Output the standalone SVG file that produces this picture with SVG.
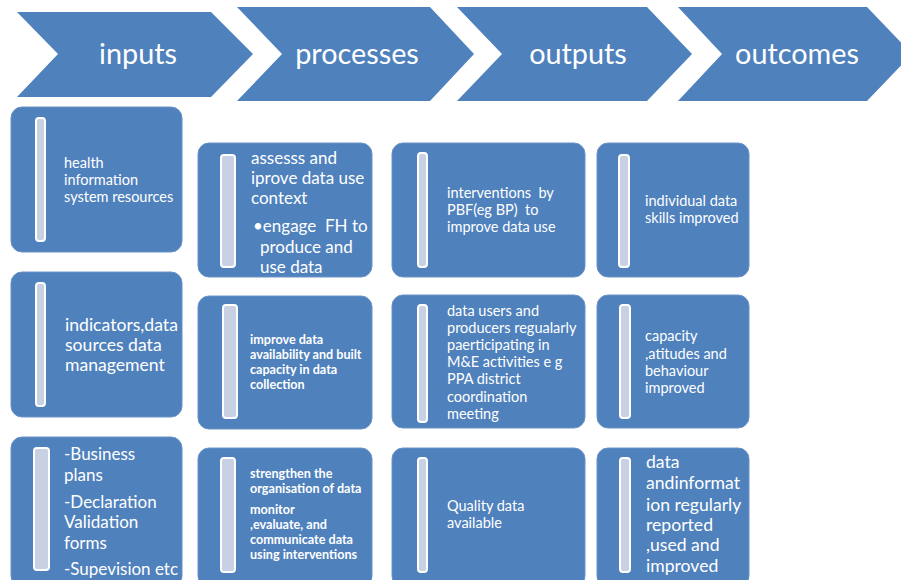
<svg xmlns="http://www.w3.org/2000/svg" width="901" height="580" viewBox="0 0 901 580">
<style>
.chev{fill:#4F81BD;}
.box{fill:#4F81BD;stroke:#6A92C6;stroke-width:1;}
.bar{fill:#C8D1E4;stroke:#FFFFFF;stroke-width:2;}
.h{font-family:Lato,"Liberation Sans",sans-serif;font-size:28.8px;fill:#FFFFFF;text-anchor:middle;}
.t{font-family:Lato,"Liberation Sans",sans-serif;fill:#FFFFFF;white-space:pre;}
.s13{font-size:14.5px;}
.s16{font-size:17px;}
.s17{font-size:17.6px;}
.s17b{font-size:17px;}
.b11{font-size:12.6px;font-weight:bold;}
</style>
<rect width="901" height="580" fill="#FFFFFF"/>
<g id="chevrons">
<g id="inputs"><polygon class="chev" points="17,12 211,12 253,54 211,97 17,97 58,54"/><text class="h" x="138" y="64">inputs</text></g>
<g id="processes"><polygon class="chev" points="237,7 430,7 474,54 430,101 237,101 282,54"/><text class="h" x="357" y="64">processes</text></g>
<g id="outputs"><polygon class="chev" points="457,7 647,7 692,54 647,101 457,101 502,54"/><text class="h" x="578" y="64">outputs</text></g>
<g id="outcomes"><polygon class="chev" points="678,7 867,7 912,54 867,101 678,101 722,54"/><text class="h" x="797" y="64">outcomes</text></g>
</g>
<g id="connectors"></g>

<g id="in1"><rect class="box" x="11" y="107" width="171" height="145" rx="11"/><rect class="bar" x="36" y="118" width="9" height="123" rx="3"/>
<text class="t s13" x="64" y="168">health</text><text class="t s13" x="64" y="185">information</text><text class="t s13" x="64" y="202">system resources</text></g>
<g id="in2"><rect class="box" x="11" y="272" width="171" height="145" rx="11"/><rect class="bar" x="36" y="283" width="9" height="123" rx="3"/>
<text class="t s17" x="65" y="331">indicators,data</text><text class="t s17" x="65" y="351">sources data</text><text class="t s17" x="65" y="371">management</text></g>
<g id="in3"><rect class="box" x="11" y="437" width="171" height="150" rx="11"/><rect class="bar" x="34" y="448" width="15" height="122" rx="3"/>
<text class="t s17b" x="64" y="460">-Business</text><text class="t s17b" x="64" y="481">plans</text><text class="t s17b" x="64" y="508">-Declaration</text><text class="t s17b" x="64" y="528">Validation</text><text class="t s17b" x="64" y="549">forms</text><text class="t s17b" x="64" y="575">-Supevision etc</text></g>

<g id="pr1"><rect class="box" x="198" y="143" width="174" height="134" rx="11"/><rect class="bar" x="221" y="155" width="14" height="112" rx="3"/>
<text class="t s16" x="251" y="164">assesss and</text><text class="t s16" x="251" y="184">iprove data use</text><text class="t s16" x="251" y="204">context</text>
<text class="t s16" x="253" y="232">•engage  FH to</text><text class="t s16" x="260" y="253">produce and</text><text class="t s16" x="260" y="273">use data</text></g>
<g id="pr2"><rect class="box" x="198" y="296" width="174" height="133" rx="11"/><rect class="bar" x="223" y="305" width="14" height="113" rx="3"/>
<text class="t b11" x="250" y="344">improve data</text><text class="t b11" x="250" y="359">availability and built</text><text class="t b11" x="250" y="374">capacity in data</text><text class="t b11" x="250" y="389">collection</text></g>
<g id="pr3"><rect class="box" x="198" y="448" width="174" height="139" rx="11"/><rect class="bar" x="221" y="458" width="14" height="114" rx="3"/>
<text class="t b11" x="250" y="478">strengthen the</text><text class="t b11" x="250" y="493">organisation of data</text><text class="t b11" x="250" y="514">monitor</text><text class="t b11" x="250" y="529">,evaluate, and</text><text class="t b11" x="250" y="544">communicate data</text><text class="t b11" x="250" y="559">using interventions</text></g>

<g id="out1"><rect class="box" x="392" y="143" width="193" height="134" rx="11"/><rect class="bar" x="418" y="153" width="9" height="114" rx="3"/>
<text class="t s13" x="447" y="198">interventions  by</text><text class="t s13" x="447" y="215">PBF(eg BP)  to</text><text class="t s13" x="447" y="232">improve data use</text></g>
<g id="out2"><rect class="box" x="392" y="295" width="193" height="133" rx="11"/><rect class="bar" x="418" y="305" width="9" height="117" rx="3"/>
<text class="t s13" x="447" y="316">data users and</text><text class="t s13" x="447" y="333">producers regualarly</text><text class="t s13" x="447" y="350">paerticipating in</text><text class="t s13" x="447" y="367">M&amp;E activities e g</text><text class="t s13" x="447" y="384">PPA district</text><text class="t s13" x="447" y="402">coordination</text><text class="t s13" x="447" y="419">meeting</text></g>
<g id="out3"><rect class="box" x="392" y="448" width="193" height="139" rx="11"/><rect class="bar" x="418" y="458" width="9" height="114" rx="3"/>
<text class="t s13" x="447" y="511">Quality data</text><text class="t s13" x="447" y="528">available</text></g>

<g id="oc1"><rect class="box" x="597" y="143" width="152" height="134" rx="11"/><rect class="bar" x="619" y="155" width="10" height="112" rx="3"/>
<text class="t s13" x="645" y="206">individual data</text><text class="t s13" x="645" y="223">skills improved</text></g>
<g id="oc2"><rect class="box" x="597" y="295" width="152" height="133" rx="11"/><rect class="bar" x="620" y="305" width="10" height="113" rx="3"/>
<text class="t s13" x="645" y="341">capacity</text><text class="t s13" x="645" y="359">,atitudes and</text><text class="t s13" x="645" y="376">behaviour</text><text class="t s13" x="645" y="393">improved</text></g>
<g id="oc3"><rect class="box" x="597" y="448" width="152" height="139" rx="11"/><rect class="bar" x="620" y="458" width="10" height="114" rx="3"/>
<text class="t s17" x="646" y="468">data</text><text class="t s17" x="646" y="489">andinformat</text><text class="t s17" x="646" y="511">ion regularly</text><text class="t s17" x="646" y="531">reported</text><text class="t s17" x="646" y="551">,used and</text><text class="t s17" x="646" y="572">improved</text></g>
</svg>
